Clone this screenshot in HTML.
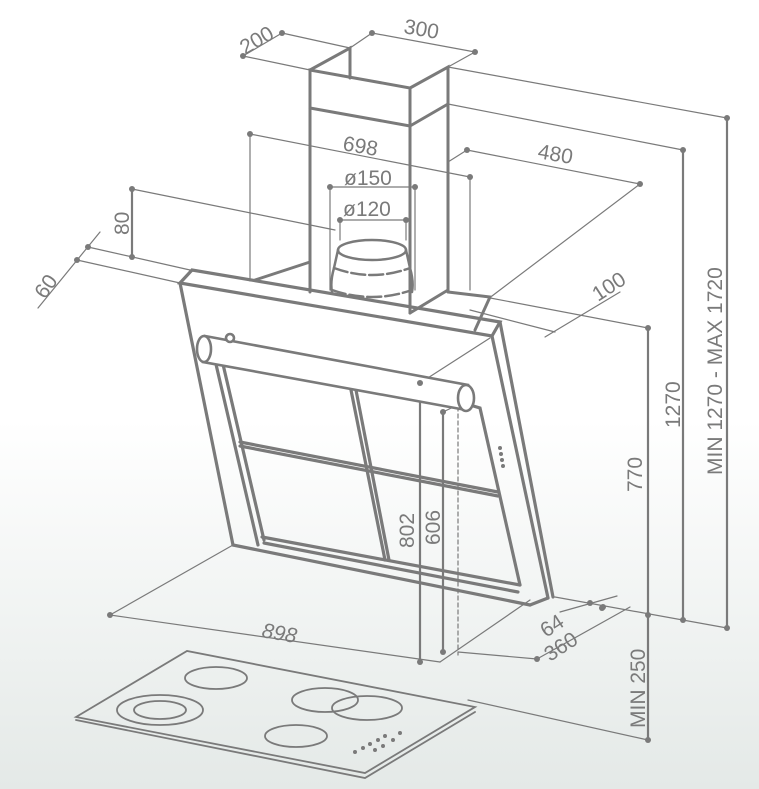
<!DOCTYPE html><html><head><style>
html,body{margin:0;padding:0}
body{width:759px;height:789px;overflow:hidden;background:linear-gradient(#fff 0,#fff 420px,#e4e9e7 789px)}
svg{position:absolute;left:0;top:0}
text{font-family:"Liberation Sans",sans-serif;fill:#7a7a7a;font-size:21px}
</style></head><body>
<svg width="759" height="789" viewBox="0 0 759 789">
<g stroke="#7a7a7a" fill="none" stroke-linecap="round">
<g stroke-width="1.2">
<line x1="243" y1="56" x2="310" y2="70"/><line x1="243" y1="56" x2="282" y2="33"/><line x1="282" y1="33" x2="350" y2="48"/>
<line x1="372" y1="33" x2="475" y2="52"/><line x1="372" y1="33" x2="350" y2="48"/><line x1="475" y1="52" x2="448" y2="67"/>
<line x1="448" y1="67" x2="727" y2="118"/><line x1="448" y1="104" x2="683" y2="150"/>
<line x1="250" y1="134" x2="470" y2="177"/><line x1="250" y1="134" x2="250" y2="281"/><line x1="470" y1="177" x2="470" y2="290"/>
<line x1="467" y1="150" x2="640" y2="184"/><line x1="467" y1="150" x2="448" y2="162"/><line x1="640" y1="184" x2="492" y2="296"/>
<line x1="330" y1="187" x2="415" y2="187"/><line x1="330" y1="187" x2="330" y2="290"/><line x1="415" y1="187" x2="415" y2="290"/>
<line x1="340" y1="220" x2="406" y2="220"/><line x1="340" y1="220" x2="340" y2="240"/><line x1="406" y1="220" x2="406" y2="240"/>
<line x1="132" y1="189" x2="335" y2="230"/>
<line x1="88" y1="247" x2="190" y2="270"/><line x1="77" y1="260" x2="180" y2="283"/><line x1="38" y1="308" x2="100" y2="232"/>
<line x1="485" y1="297" x2="648" y2="328"/><line x1="470" y1="310" x2="555" y2="332"/><line x1="545" y1="337" x2="620" y2="292"/>
<line x1="420" y1="383" x2="490" y2="338"/><line x1="443" y1="412" x2="468" y2="400"/>
<line x1="233" y1="545" x2="110" y2="615"/><line x1="110" y1="615" x2="440" y2="662"/>
<line x1="440" y1="662" x2="530" y2="600"/><line x1="458" y1="652" x2="537" y2="659"/><line x1="537" y1="659" x2="630" y2="607"/>
<line x1="555" y1="597" x2="727" y2="628"/><line x1="560" y1="612" x2="617" y2="596"/>
<line x1="468" y1="700" x2="648" y2="740"/>
<line x1="458" y1="400" x2="458" y2="655" stroke-dasharray="4,3"/>
</g>
<g stroke-width="2.2">
<line x1="132" y1="189" x2="132" y2="257"/>
<line x1="420" y1="383" x2="420" y2="662"/><line x1="443" y1="412" x2="443" y2="652"/>
<line x1="648" y1="328" x2="648" y2="740"/><line x1="683" y1="150" x2="683" y2="618"/><line x1="727" y1="118" x2="727" y2="628"/>
</g>
<g stroke-width="3">
<polyline points="310,292 310,70 410,88 410,313"/><polyline points="310,70 350,48 350,78"/><polyline points="410,88 448,67 448,290"/>
<line x1="310" y1="108" x2="410" y2="126"/><line x1="410" y1="126" x2="448" y2="104"/>
<line x1="255" y1="280" x2="310" y2="262"/>
<polyline points="448,290 410,313"/>
<polyline points="448,292 490,297 475,330"/>
</g>
<g stroke-width="2.5">
<ellipse cx="372" cy="250" rx="34" ry="10"/><path d="M338 250 L334 268 Q330 282 332 292 M406 250 L410 268 Q414 282 412 292"/>
<path d="M334 268 Q372 282 410 268 M332 290 Q372 304 412 290" stroke-dasharray="14,4"/>
</g>
<g stroke-width="3.2">
<polygon points="180,283 192,270 500,322 492,336"/>
<line x1="180" y1="283" x2="233" y2="545"/><line x1="492" y1="336" x2="548" y2="598"/><line x1="500" y1="322" x2="553" y2="597"/>
<line x1="233" y1="545" x2="530" y2="605"/><line x1="530" y1="605" x2="548" y2="598"/>
<line x1="215" y1="360" x2="258" y2="545"/><line x1="222" y1="360" x2="264" y2="540"/>
<polyline points="470,405 480,408 520,585"/>
<line x1="262" y1="537" x2="520" y2="585"/><line x1="264" y1="543" x2="518" y2="592"/>
<line x1="240" y1="442" x2="498" y2="492"/><line x1="240" y1="446" x2="498" y2="496"/>
<line x1="350" y1="385" x2="385" y2="560"/><line x1="355" y1="385" x2="389" y2="560"/>
</g>
<g stroke-width="2.6" fill="#fff">
<path d="M205 336 L468 385 L466 410 L203 362 Z"/>
<ellipse cx="204" cy="349" rx="7" ry="13"/><ellipse cx="466" cy="398" rx="8" ry="13"/>
<circle cx="230" cy="338" r="4"/>
</g>
<g fill="#7a7a7a" stroke="none">
<circle cx="500" cy="448" r="2"/><circle cx="501" cy="454" r="2"/><circle cx="502" cy="460" r="2"/><circle cx="503" cy="466" r="2"/>
</g>
<g stroke-width="1.8">
<polygon points="76,717 187,651 475,707 365,773"/>
<polyline points="76,720 365,778 475,712"/>
<ellipse cx="216" cy="678" rx="31" ry="11"/><ellipse cx="160" cy="710" rx="43" ry="15"/><ellipse cx="160" cy="710" rx="26" ry="9"/>
<ellipse cx="325" cy="700" rx="33" ry="12"/><ellipse cx="367" cy="708" rx="35" ry="12"/><ellipse cx="296" cy="736" rx="31" ry="11"/>
</g>
<g fill="#7a7a7a" stroke="none">
<circle cx="355" cy="752" r="2"/><circle cx="363" cy="748" r="2"/><circle cx="370" cy="744" r="2"/><circle cx="378" cy="740" r="2"/><circle cx="385" cy="736" r="2"/>
<circle cx="375" cy="750" r="2"/><circle cx="383" cy="746" r="2"/><circle cx="393" cy="740" r="2"/><circle cx="400" cy="733" r="2"/>
</g>
<g fill="#7a7a7a" stroke="none">
<circle cx="243" cy="56" r="3"/><circle cx="282" cy="33" r="3"/><circle cx="372" cy="33" r="3"/><circle cx="475" cy="52" r="3"/>
<circle cx="250" cy="134" r="3"/><circle cx="470" cy="177" r="3"/><circle cx="467" cy="150" r="3"/><circle cx="640" cy="184" r="3"/>
<circle cx="330" cy="187" r="3"/><circle cx="415" cy="187" r="3"/><circle cx="340" cy="220" r="3"/><circle cx="406" cy="220" r="3"/>
<circle cx="132" cy="189" r="3"/><circle cx="132" cy="257" r="3"/><circle cx="88" cy="247" r="3"/><circle cx="77" cy="260" r="3"/>
<circle cx="648" cy="328" r="3"/><circle cx="648" cy="615" r="3"/><circle cx="648" cy="740" r="3"/><circle cx="683" cy="150" r="3"/><circle cx="683" cy="620" r="3"/>
<circle cx="727" cy="118" r="3"/><circle cx="727" cy="628" r="3"/><circle cx="420" cy="383" r="3"/><circle cx="443" cy="412" r="3"/>
<circle cx="420" cy="662" r="3"/><circle cx="443" cy="652" r="3"/><circle cx="110" cy="615" r="3"/><circle cx="537" cy="659" r="3"/>
<circle cx="602" cy="608" r="3"/><circle cx="590" cy="603" r="3"/><circle cx="603" cy="607" r="3"/>
</g>
</g>
<text transform="translate(245,55) rotate(-30)">200</text>
<text transform="translate(403,33) rotate(10)">300</text>
<text transform="translate(342,150) rotate(10)">698</text>
<text transform="translate(537,158) rotate(10)">480</text>
<text x="344" y="185">ø150</text>
<text x="343" y="216">ø120</text>
<text transform="translate(129,235) rotate(-90)">80</text>
<text transform="translate(45,300) rotate(-55)">60</text>
<text transform="translate(598,302) rotate(-33)">100</text>
<text transform="translate(261,637) rotate(10)" font-style="italic">898</text>
<text transform="translate(414,548) rotate(-90)">802</text>
<text transform="translate(440,545) rotate(-90)">606</text>
<text transform="translate(642,492) rotate(-90)">770</text>
<text transform="translate(680,428) rotate(-90)">1270</text>
<text transform="translate(722,475) rotate(-90)">MIN 1270 - MAX 1720</text>
<text transform="translate(645,728) rotate(-90)">MIN 250</text>
<text transform="translate(546,638) rotate(-33)">64</text>
<text transform="translate(550,662) rotate(-33)">360</text>
</svg>
</body></html>
